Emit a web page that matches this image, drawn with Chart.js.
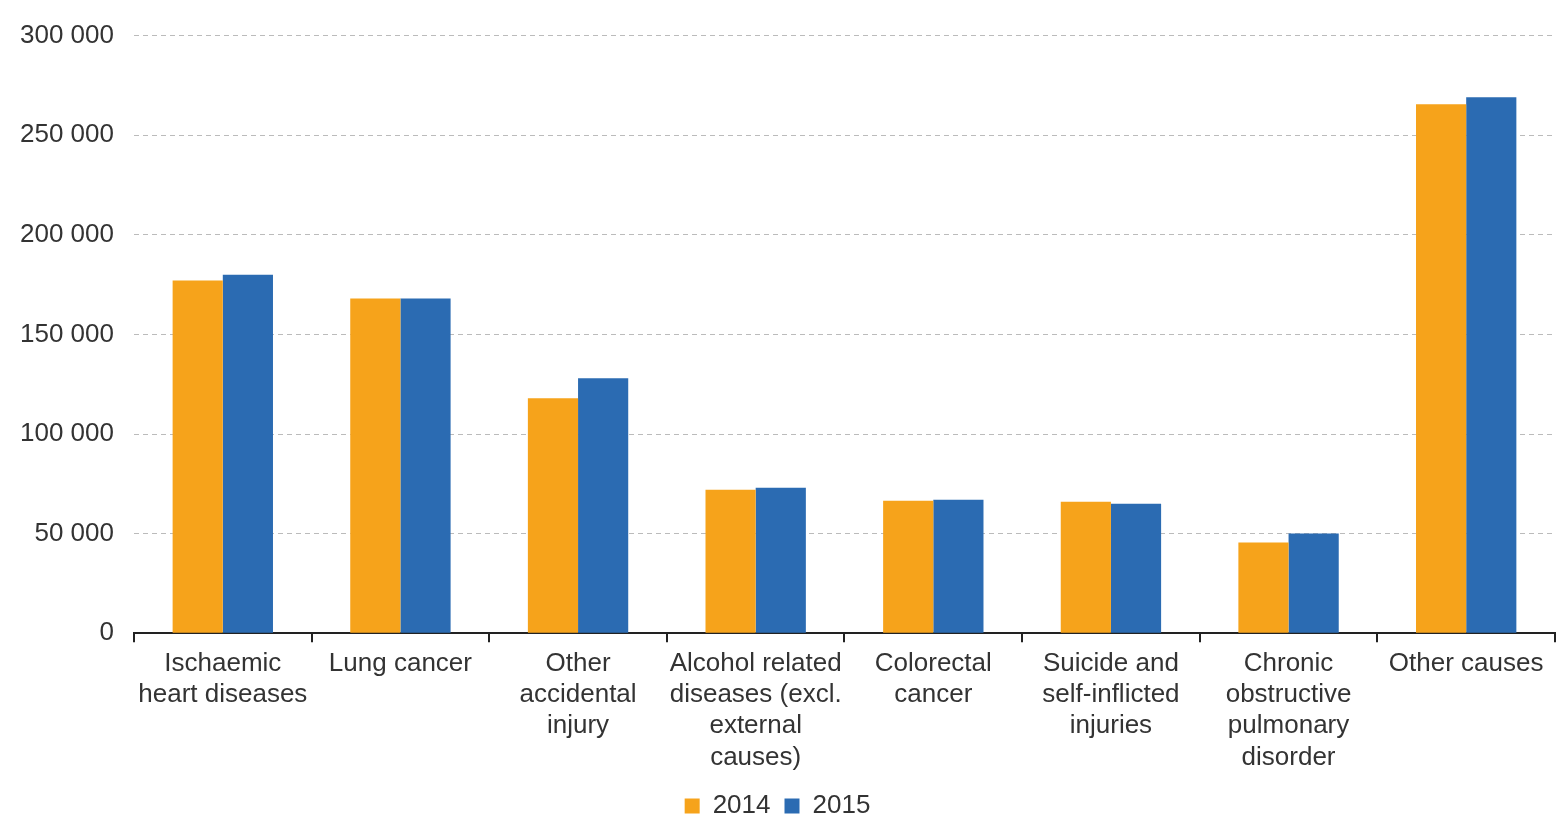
<!DOCTYPE html>
<html>
<head>
<meta charset="utf-8">
<script src="https://cdn.jsdelivr.net/npm/chart.js@4"></script>
<style>
    html, body { margin: 0; padding: 0; background: #fff; }
    #wrap { width: 1558px; height: 831px; }
</style>
</head>
<body>
<div id="wrap"><canvas id="causesChart"></canvas></div>
<script>
// Categories and values (number of deaths)
const categories = [
    ['Ischaemic', 'heart diseases'],
    ['Lung cancer'],
    ['Other', 'accidental', 'injury'],
    ['Alcohol related', 'diseases (excl.', 'external', 'causes)'],
    ['Colorectal', 'cancer'],
    ['Suicide and', 'self-inflicted', 'injuries'],
    ['Chronic', 'obstructive', 'pulmonary', 'disorder'],
    ['Other causes']
];
const values2014 = [177000, 168000, 118000, 72000, 66500, 66000, 45500, 265500];
const values2015 = [180000, 168000, 128000, 73000, 67000, 65000, 50000, 269000];
const yTicks = [0, 50000, 100000, 150000, 200000, 250000, 300000];

function formatThousands(v) {
    return v.toLocaleString('en-US').replace(/,/g, ' ');
}

const ctx = document.getElementById('causesChart').getContext('2d');

new Chart(ctx, {
    type: 'bar',
    data: {
        labels: categories,
        datasets: [
            {
                label: '2014',
                data: values2014,
                backgroundColor: '#F6A31B',
                categoryPercentage: 0.565,
                barPercentage: 1.0
            },
            {
                label: '2015',
                data: values2015,
                backgroundColor: '#2B6BB2',
                categoryPercentage: 0.565,
                barPercentage: 1.0
            }
        ]
    },
    options: {
        responsive: true,
        maintainAspectRatio: false,
        animation: false,
        layout: {
            padding: { top: 24, right: 3, left: 0, bottom: 2 }
        },
        scales: {
            x: {
                offset: true,
                grid: {
                    offset: true,
                    drawOnChartArea: false,
                    color: '#222',
                    tickLength: 9,
                    lineWidth: 2
                },
                border: { color: '#222', width: 2 },
                ticks: {
                    color: '#333',
                    maxRotation: 0,
                    autoSkip: false,
                    padding: 6,
                    font: { family: 'Liberation Sans', size: 26, lineHeight: 1.2 }
                }
            },
            y: {
                min: 0,
                max: 300000,
                afterBuildTicks: function (axis) {
                    axis.ticks = yTicks.map(v => ({ value: v }));
                },
                // in v4 the gridline dash comes from border.dash
                border: { display: false, dash: [5, 4] },
                grid: {
                    color: '#bbb',
                    lineWidth: 1,
                    drawTicks: false
                },
                ticks: {
                    color: '#333',
                    padding: 20,
                    font: { family: 'Liberation Sans', size: 26 },
                    callback: function (value) {
                        return formatThousands(value);
                    }
                }
            }
        },
        plugins: {
            legend: {
                position: 'bottom',
                labels: {
                    color: '#333',
                    boxWidth: 15,
                    boxHeight: 15,
                    padding: 14,
                    font: { family: 'Liberation Sans', size: 26 }
                }
            },
            tooltip: { enabled: false }
        }
    }
});
</script>
</body>
</html>
